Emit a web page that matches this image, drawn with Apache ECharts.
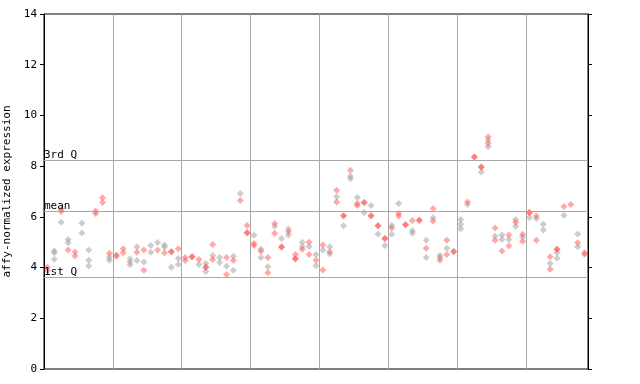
<!DOCTYPE html>
<html><head><meta charset="utf-8">
<script src="https://cdn.jsdelivr.net/npm/echarts@6/dist/echarts.min.js"></script>
<style>html,body{margin:0;padding:0;background:#fff}#c{width:640px;height:384px}</style>
</head><body><div id="c"></div>
<script>
// values per sample column (79 samples), red and grey points
const redVals = [
[4.01,3.87],[],[6.29,6.21],[4.69],[4.61,4.46],[],[],[6.23,6.13],[6.75,6.57],[4.56],
[4.50,4.45],[4.74,4.58],[],[4.60],[4.69,3.89],[],[4.69],[4.58],[4.62,4.62],[4.74],
[4.40,4.28],[4.43,4.43],[4.32],[4.01,4.01],[4.91,4.32],[],[4.40,3.73],[4.28],[6.65],[5.66,5.37,5.37],
[4.95,4.87],[4.64],[4.40,3.80],[5.74,5.35],[4.81,4.81],[5.41],[4.52,4.35,4.35],[4.72],[5.00,4.52],[4.29],
[4.89,3.90],[4.62],[7.05,6.59],[6.04,6.04],[7.84],[6.53,6.45],[6.57,6.57],[6.04,6.04],[5.65,5.65],[5.15,5.15],
[5.56],[6.13,6.03],[5.69,5.69],[5.86],[5.87,5.87],[4.76],[6.33,5.84],[4.29],[5.08,4.52],[4.62,4.64],
[],[6.59],[8.36,8.36],[7.97,7.97],[9.15,8.89],[5.56,5.08],[4.65],[5.28,4.85],[5.79],[5.31,5.04],
[6.17,6.17],[6.03,5.08],[],[4.43,3.93],[4.72,4.72],[6.41],[6.49],[4.98],[4.58,4.53]
];
const greyVals = [
[],[4.65,4.58,4.33],[5.79],[5.11,4.98],[],[5.75,5.36],[4.69,4.29,4.06],[],[],[4.41,4.29],
[],[],[4.35,4.22,4.11],[4.82,4.28],[4.22],[4.87,4.60],[4.99],[4.89,4.80],[4.01],[4.36,4.12],
[],[],[4.12],[4.16,3.85],[4.48],[4.40,4.20],[4.05],[4.45,3.89],[6.92],[],
[5.27],[4.72,4.40],[4.03],[5.63],[5.15],[5.52,5.27],[],[5.00,4.82],[4.83],[4.52,4.07],
[4.69],[4.82,4.54],[6.79],[5.65],[7.60,7.50],[6.76],[6.17],[6.45],[5.32],[4.87],
[5.66,5.31],[6.53],[],[5.45,5.35],[],[5.08,4.40],[5.96],[4.48,4.40],[4.76],[],
[5.90,5.71,5.53],[6.49],[],[7.77],[9.02,8.76],[5.24],[5.28,5.11],[5.11],[5.90,5.63],[5.21],
[5.97],[5.94],[5.71,5.48],[4.16],[4.58,4.37],[6.06],[],[5.32,4.82],[]
];
const statLines = [
  {name: '3rd Q', value: 8.23},
  {name: 'mean', value: 6.22},
  {name: '1st Q', value: 3.62}
];
const yTicks = {min: 0, max: 14, interval: 2};
const sampleCount = 79;

function toPoints(cols){
  const out = [];
  cols.forEach((vals, i) => vals.forEach(v => out.push([i + 0.5, v])));
  return out;
}
const font = '"DejaVu Sans Mono", monospace';
const chart = echarts.init(document.getElementById('c'), null, {renderer: 'canvas'});
chart.setOption({
  animation: false,
  backgroundColor: '#fff',
  grid: {left: 44, right: 52, top: 14, bottom: 15, show: true, borderColor: '#000', borderWidth: 1,
         containLabel: false, outerBoundsMode: 'none'},
  xAxis: {
    type: 'value', min: 0, max: sampleCount, interval: 10,
    axisLine: {show: false}, axisTick: {show: false}, axisLabel: {show: false},
    splitLine: {show: true, lineStyle: {color: '#a8a8a8', width: 1}}
  },
  yAxis: [{
    type: 'value', min: yTicks.min, max: yTicks.max, interval: yTicks.interval,
    name: 'affy-normalized expression', nameLocation: 'middle', nameGap: 27,
    nameTextStyle: {fontFamily: font, fontSize: 11, color: '#000'},
    axisLine: {show: true, lineStyle: {color: '#000'}},
    axisTick: {show: true, length: 4, lineStyle: {color: '#000'}},
    axisLabel: {fontFamily: font, fontSize: 11, color: '#000', margin: 7},
    splitLine: {show: false}
  },{
    type: 'value', position: 'right', min: yTicks.min, max: yTicks.max, interval: yTicks.interval,
    axisLine: {show: true, lineStyle: {color: '#000'}},
    axisTick: {show: true, length: 4, lineStyle: {color: '#000'}},
    axisLabel: {show: false}, splitLine: {show: false}
  }],
  series: [{
    type: 'scatter', data: toPoints(greyVals), symbol: 'diamond', symbolSize: 7,
    itemStyle: {color: 'rgba(150,150,150,0.6)'}, z: 3,
    markLine: {
      silent: true, symbol: 'none',
      lineStyle: {color: '#a8a8a8', width: 1, type: 'solid'},
      label: {position: 'insideStartTop', distance: [0, 0], formatter: '{b}', fontFamily: font, fontSize: 11, color: '#000'},
      data: statLines.map(s => ({name: s.name, yAxis: s.value}))
    }
  },{
    type: 'scatter', data: toPoints(redVals), symbol: 'diamond', symbolSize: 7,
    itemStyle: {color: 'rgba(255,80,80,0.62)'}, z: 4
  }]
});
</script></body></html>
